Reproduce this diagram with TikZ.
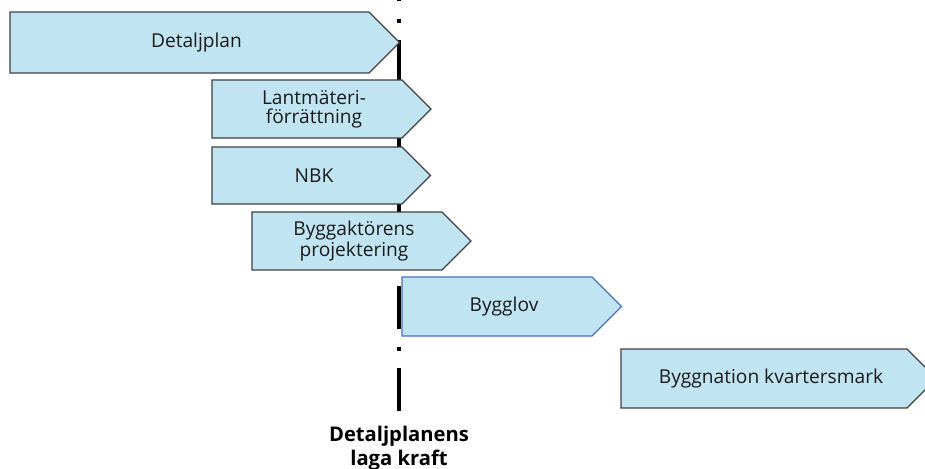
\documentclass[tikz,border=0pt]{standalone}
\usepackage{fontspec}
\setmainfont{Open Sans}
\usetikzlibrary{positioning,calc}
\definecolor{planFill}{HTML}{C0E4F2}
\definecolor{planLine}{HTML}{404040}
\definecolor{planBlue}{HTML}{4A72B8}
\definecolor{planText}{HTML}{1A1A1A}

\begin{document}
\begin{tikzpicture}[x=0.02cm, y=-0.02cm]

% --- PARAMETERS ---
% name/left/top/bottom/corner x/outline colour/text
\def\boxdata{%
  detalj/10/12/73/369/planLine/{Detaljplan},%
  lantm/212/80/138/402/planLine/{Lantmäteri-\\förrättning},%
  nbk/212/147/204/402/planLine/{NBK},%
  projekt/252/212/270/442/planLine/{Byggaktörens\\projektering},%
  bygglov/402/277/336/592/planBlue/{Bygglov},%
  byggnation/621/349/408/907/planLine/{Byggnation kvartersmark}%
}
\def\xLine{399}         % x of the milestone line
\tikzset{
  boxtext/.style={font=\fontsize{10.9}{10.8}\selectfont, color=planText,
    align=center, inner sep=0pt},
  milestone/.style={line width=2.55pt,
    dash pattern=on 24.47pt off 10.24pt on 2.28pt off 9.67pt}
}

% --- FRAME ---
\useasboundingbox (0,0) rectangle (925,468);
\clip (0,0) rectangle (925,468);

% --- MILESTONE LINE (behind the boxes) ---
\coordinate (lineTop) at (\xLine,-42);
\coordinate (lineEnd) at (\xLine,411);
\draw[milestone] (lineTop) -- (lineEnd);
\node[below=0.3cm of lineEnd, inner sep=0pt, align=center,
  font=\fontsize{11.5}{13.6}\selectfont\bfseries] (kraft)
  {Detaljplanens\\laga kraft};

% --- ARROW BOXES ---
\foreach \nm/\xl/\yt/\yb/\xc/\lc/\txt in \boxdata {
  \pgfmathsetmacro\ym{(\yt+\yb)/2}
  \pgfmathsetmacro\xt{\xc+(\yb-\yt)/2}
  \pgfmathsetmacro\xm{(\xl+\xc+14)/2}
  \filldraw[fill=planFill, draw=\lc, line width=0.7pt, line join=miter]
    (\xl,\yt) -- (\xc,\yt) -- (\xt,\ym) -- (\xc,\yb) -- (\xl,\yb) -- cycle;
  \node[boxtext] (\nm) at (\xm,\ym) {\txt};
}

\end{tikzpicture}
\end{document}
